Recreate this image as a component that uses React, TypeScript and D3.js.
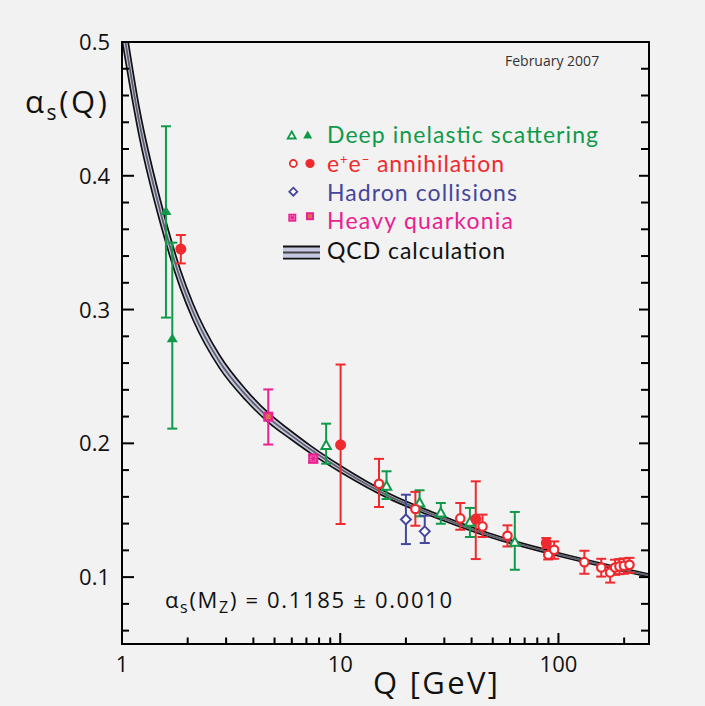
import React from 'react';
import * as d3 from 'd3';

// ---- QCD band ----
const qcdQ = [1.0, 1.2, 1.5, 1.85, 2.12, 2.8, 3.7, 4.7, 5.9, 7.3, 10, 17, 29, 49, 92, 260];
const qcdAlpha = [0.516, 0.44, 0.373, 0.323, 0.298, 0.261, 0.236, 0.219, 0.2065, 0.1955, 0.181, 0.16, 0.1445, 0.131, 0.1185, 0.1012];
const qcdHalfBand = [0.014, 0.0105, 0.0085, 0.0068, 0.006, 0.0048, 0.004, 0.0035, 0.0031, 0.0028, 0.0024, 0.0019, 0.0016, 0.0014, 0.0012, 0.0011];

// ---- Deep inelastic scattering ----
const disQ = [1.59, 1.7, 8.62, 16.3, 23.1, 28.9, 39.3, 63.1];
const disAlpha = [0.374, 0.279, 0.199, 0.1684, 0.1559, 0.1484, 0.1416, 0.1267];
const disErrUp = [0.063, 0.071, 0.0157, 0.0107, 0.009, 0.007, 0.0101, 0.022];
const disErrDown = [0.08, 0.068, 0.0142, 0.01, 0.0105, 0.0085, 0.0116, 0.0212];
const disFilled = [true, true, false, false, false, false, false, false];

// ---- e+e- annihilation ----
const eeQ = [1.86, 10.04, 41.8, 88, 15.06, 22.1, 35.5, 44.9, 58.4, 89.8, 95.6, 131.5, 157.1, 172.6, 181.7, 190.3, 199.4, 211.6];
const eeAlpha = [0.3452, 0.1989, 0.1434, 0.1255, 0.1697, 0.1509, 0.1439, 0.1379, 0.1309, 0.1167, 0.1204, 0.1112, 0.1072, 0.1034, 0.1072, 0.108, 0.1085, 0.1092];
const eeErrUp = [0.0105, 0.06, 0.0282, 0.0037, 0.0187, 0.0128, 0.0115, 0.0088, 0.0078, 0.006, 0.0063, 0.0085, 0.0065, 0.0045, 0.0058, 0.0055, 0.0055, 0.0052];
const eeErrDown = [0.0107, 0.0592, 0.0299, 0.0037, 0.0173, 0.0125, 0.0085, 0.0079, 0.008, 0.0035, 0.0067, 0.0087, 0.0068, 0.0075, 0.0055, 0.0058, 0.006, 0.006];
const eeFilled = [true, true, true, true, false, false, false, false, false, false, false, false, false, false, false, false, false, false];

// ---- Hadron collisions ----
const hadQ = [20.0, 24.4];
const hadAlpha = [0.1431, 0.1342];
const hadErrUp = [0.0185, 0.0117];
const hadErrDown = [0.0184, 0.0087];

// ---- Heavy quarkonia ----
const hqQ = [4.68, 7.52];
const hqAlpha = [0.2199, 0.1886];
const hqErrUp = [0.0204, 0.003];
const hqErrDown = [0.0208, 0.003];
const hqFilled = [true, false];

// ---- Axes ----
const yMajor = [0.1, 0.2, 0.3, 0.4, 0.5];
const yMajorLabels = ['0.1', '0.2', '0.3', '0.4', '0.5'];
const yMinor = [0.06, 0.08, 0.12, 0.14, 0.16, 0.18, 0.22, 0.24, 0.26, 0.28, 0.32, 0.34, 0.36, 0.38, 0.42, 0.44, 0.46, 0.48];
const xMajor = [1, 10, 100];
const xMajorLabels = ['1', '10', '100'];
const xMinor = [2, 3, 4, 5, 6, 7, 8, 9, 20, 30, 40, 50, 60, 70, 80, 90, 200];

const GREEN = '#0f9a4a';
const RED = '#ee2a2e';
const BLUE = '#44479c';
const PINK = '#ea2190';
const PINK_IN = '#d8704e';
const BG = '#f2f2f2';
const FONT = "'Open Sans', 'Noto Sans', sans-serif";
const LFONT = "Lato, 'Open Sans', sans-serif";

const W = 705;
const H = 706;
const L = 122, R = 649, T = 42, B = 644;

const x = d3.scaleLog().domain([1, 260]).range([L, R]);
const y = d3.scaleLinear().domain([0.05, 0.5]).range([B, T]);

function tri(cx: number, cy: number, w: number, h: number) {
  return `M${cx},${cy - h / 2}L${cx + w / 2},${cy + h / 2}L${cx - w / 2},${cy + h / 2}Z`;
}

function ErrBar({ q, a, up, dn, color }: { q: number; a: number; up: number; dn: number; color: string }) {
  const cx = x(q);
  const y1 = y(a + up);
  const y2 = y(a - dn);
  return (
    <g stroke={color} strokeWidth={2} fill="none">
      <line x1={cx} x2={cx} y1={y1} y2={y2} />
      <line x1={cx - 5} x2={cx + 5} y1={y1} y2={y1} />
      <line x1={cx - 5} x2={cx + 5} y1={y2} y2={y2} />
    </g>
  );
}

function LatticeSquare({ cx, cy, s }: { cx: number; cy: number; s: number }) {
  return (
    <g>
      <rect x={cx - s / 2} y={cy - s / 2} width={s} height={s} fill={PINK} />
      <rect x={cx - s / 4} y={cy - s / 4} width={s / 2} height={s / 2} fill="none" stroke="#f7b8d8" strokeWidth={0.9} strokeDasharray="1,1" />
    </g>
  );
}

function FilledSquare({ cx, cy, s }: { cx: number; cy: number; s: number }) {
  return (
    <g>
      <rect x={cx - s / 2} y={cy - s / 2} width={s} height={s} fill={PINK} />
      <rect x={cx - s / 4} y={cy - s / 4} width={s / 2} height={s / 2} fill={PINK_IN} />
    </g>
  );
}

export default function App() {
  const line = d3
    .line<number>()
    .x((_, i) => x(qcdQ[i]))
    .y((d) => y(d))
    .curve(d3.curveMonotoneX);
  const area = d3
    .area<number>()
    .x((_, i) => x(qcdQ[i]))
    .y0((d, i) => y(d - qcdHalfBand[i]))
    .y1((d, i) => y(d + qcdHalfBand[i]))
    .curve(d3.curveMonotoneX);
  const upper = qcdAlpha.map((d, i) => d + qcdHalfBand[i]);
  const lower = qcdAlpha.map((d, i) => d - qcdHalfBand[i]);

  return (
    <svg width={W} height={H} style={{ position: 'absolute', left: 0, top: 0 }} fontFamily={FONT}>
      <rect x={0} y={0} width={W} height={H} fill={BG} />
      <defs>
        <clipPath id="plotClip">
          <rect x={L} y={T} width={R - L} height={B - T} />
        </clipPath>
      </defs>

      {/* QCD band */}
      <g clipPath="url(#plotClip)">
        <path d={area(qcdAlpha) || ''} fill="#c4c7df" />
        <path d={line(upper) || ''} fill="none" stroke="#111" strokeWidth={1.7} />
        <path d={line(lower) || ''} fill="none" stroke="#111" strokeWidth={1.7} />
        <path d={line(qcdAlpha) || ''} fill="none" stroke="#5f5f6c" strokeWidth={1.8} />
      </g>

      {/* frame */}
      <rect x={L} y={T} width={R - L} height={B - T} fill="none" stroke="#000" strokeWidth={2} />

      {/* y ticks */}
      {yMajor.map((v) => (
        <g key={'ym' + v}>
          <line x1={L} x2={L + 12} y1={y(v)} y2={y(v)} stroke="#000" strokeWidth={2} />
          <line x1={R} x2={R - 10} y1={y(v)} y2={y(v)} stroke="#000" strokeWidth={2} />
        </g>
      ))}
      {yMinor.map((v) => (
        <g key={'yn' + v}>
          <line x1={L} x2={L + 7} y1={y(v)} y2={y(v)} stroke="#000" strokeWidth={2} />
          <line x1={R} x2={R - 8} y1={y(v)} y2={y(v)} stroke="#000" strokeWidth={2} />
        </g>
      ))}
      {yMajor.map((v, i) => (
        <text key={'yl' + v} x={110} y={y(v) + 8} textAnchor="end" fontSize={22} fill="#111">
          {yMajorLabels[i]}
        </text>
      ))}

      {/* x ticks */}
      {xMajor.map((v) => (
        <line key={'xm' + v} x1={x(v)} x2={x(v)} y1={B} y2={B - 11} stroke="#000" strokeWidth={2} />
      ))}
      {xMinor.map((v) => (
        <line key={'xn' + v} x1={x(v)} x2={x(v)} y1={B} y2={B - 6.5} stroke="#000" strokeWidth={2} />
      ))}
      {xMajor.map((v, i) => (
        <text key={'xl' + v} x={x(v)} y={672} textAnchor="middle" fontSize={22} fill="#111">
          {xMajorLabels[i]}
        </text>
      ))}

      {/* axis titles */}
      <text x={373} y={694} fontSize={31} fill="#111" textLength={125} lengthAdjust="spacing">
        Q [GeV]
      </text>
      <text x={25} y={113} fontSize={31} fill="#111" textLength={82} lengthAdjust="spacing">
        <tspan>α</tspan>
        <tspan dy={7} fontSize={21}>s</tspan>
        <tspan dy={-7}>(Q)</tspan>
      </text>

      <text x={505} y={66} fontSize={14} fill="#333">February 2007</text>

      <text x={165} y={608} fontSize={22} fill="#111" textLength={287} lengthAdjust="spacing">
        <tspan>α</tspan>
        <tspan dy={5} fontSize={16}>s</tspan>
        <tspan dy={-5}>(M</tspan>
        <tspan dy={5} fontSize={16}>Z</tspan>
        <tspan dy={-5}>) = 0.1185 ± 0.0010</tspan>
      </text>

      {/* data: error bars */}
      {disQ.map((q, i) => (
        <ErrBar key={'de' + i} q={q} a={disAlpha[i]} up={disErrUp[i]} dn={disErrDown[i]} color={GREEN} />
      ))}
      {eeQ.map((q, i) => (
        <ErrBar key={'ee' + i} q={q} a={eeAlpha[i]} up={eeErrUp[i]} dn={eeErrDown[i]} color={RED} />
      ))}
      {hadQ.map((q, i) => (
        <ErrBar key={'he' + i} q={q} a={hadAlpha[i]} up={hadErrUp[i]} dn={hadErrDown[i]} color={BLUE} />
      ))}
      {hqQ.map((q, i) => (
        <ErrBar key={'qe' + i} q={q} a={hqAlpha[i]} up={hqErrUp[i]} dn={hqErrDown[i]} color={PINK} />
      ))}

      {/* data: markers */}
      {disQ.map((q, i) =>
        disFilled[i] ? (
          <path key={'dm' + i} d={tri(x(q), y(disAlpha[i]), 11, 9)} fill={GREEN} />
        ) : (
          <path key={'dm' + i} d={tri(x(q), y(disAlpha[i]), 9.5, 8.5)} fill="#fff" stroke={GREEN} strokeWidth={2} />
        )
      )}
      {eeQ.map((q, i) =>
        eeFilled[i] ? (
          <circle key={'em' + i} cx={x(q)} cy={y(eeAlpha[i])} r={5.5} fill={RED} />
        ) : (
          <circle key={'em' + i} cx={x(q)} cy={y(eeAlpha[i])} r={4.2} fill="#fff" stroke={RED} strokeWidth={2.2} />
        )
      )}
      {hadQ.map((q, i) => {
        const cx = x(q), cy = y(hadAlpha[i]);
        return (
          <path key={'hm' + i} d={`M${cx},${cy - 5}L${cx + 5},${cy}L${cx},${cy + 5}L${cx - 5},${cy}Z`} fill="#fff" stroke={BLUE} strokeWidth={2} />
        );
      })}
      {hqQ.map((q, i) =>
        hqFilled[i] ? (
          <FilledSquare key={'qm' + i} cx={x(q)} cy={y(hqAlpha[i])} s={10} />
        ) : (
          <LatticeSquare key={'qm' + i} cx={x(q)} cy={y(hqAlpha[i])} s={10} />
        )
      )}

      {/* legend */}
      <g fontFamily={LFONT}>
        <path d={tri(291.7, 135, 8, 7)} fill="#fff" stroke={GREEN} strokeWidth={1.8} />
        <path d={tri(307.7, 134.5, 9, 8)} fill={GREEN} />
        <text x={327} y={143} fontSize={23} fill={GREEN} textLength={271} lengthAdjust="spacing">
          Deep inelastic scattering
        </text>

        <circle cx={293.3} cy={163.5} r={3.5} fill="#fff" stroke={RED} strokeWidth={1.8} />
        <circle cx={310} cy={163.5} r={4.6} fill={RED} />
        <text x={327} y={172} fontSize={23} fill={RED} textLength={177} lengthAdjust="spacing">
          <tspan>e</tspan>
          <tspan dy={-8} fontSize={13}>+</tspan>
          <tspan dy={8}>e</tspan>
          <tspan dy={-8} fontSize={13}>−</tspan>
          <tspan dy={8}> annihilation</tspan>
        </text>

        <path d="M293.3,187.7L297.3,191.7L293.3,195.7L289.3,191.7Z" fill="#fff" stroke={BLUE} strokeWidth={1.8} />
        <text x={327} y={200.5} fontSize={23} fill={BLUE} textLength={190} lengthAdjust="spacing">
          Hadron collisions
        </text>

        <LatticeSquare cx={292.3} cy={217.7} s={8} />
        <FilledSquare cx={310} cy={216.2} s={8} />
        <text x={327} y={229} fontSize={23} fill={PINK} textLength={186} lengthAdjust="spacing">
          Heavy quarkonia
        </text>

        <rect x={283} y={246.5} width={37} height={12} fill="#c4c7df" />
        <line x1={283} x2={320} y1={246.5} y2={246.5} stroke="#111" strokeWidth={1.8} />
        <line x1={283} x2={320} y1={252.6} y2={252.6} stroke="#444" strokeWidth={2} />
        <line x1={283} x2={320} y1={258.6} y2={258.6} stroke="#111" strokeWidth={1.8} />
        <text x={327} y={258.5} fontSize={23} fill="#111" textLength={178} lengthAdjust="spacing">
          QCD calculation
        </text>
      </g>
    </svg>
  );
}
